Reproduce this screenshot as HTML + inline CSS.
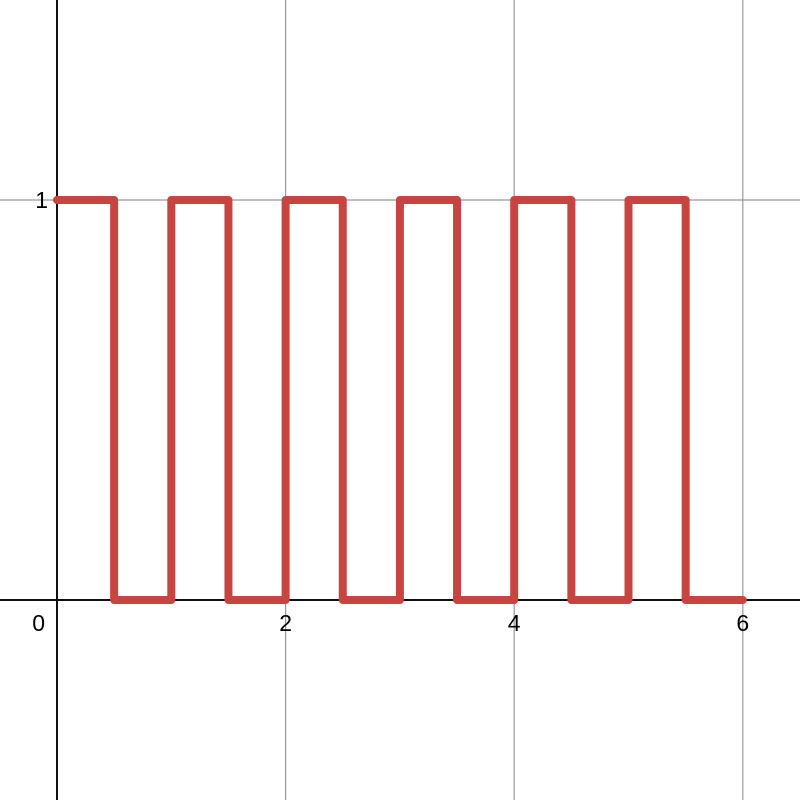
<!DOCTYPE html>
<html><head><meta charset="utf-8"><style>
html,body{margin:0;padding:0;background:#fff;}
svg{display:block;font-family:"Liberation Sans",Arial,sans-serif;}
</style></head><body>
<svg id="chart" width="800" height="800" viewBox="0 0 800 800" xmlns="http://www.w3.org/2000/svg">
<rect width="800" height="800" fill="#fff"/>
<g id="grid"></g>
<g id="axes"></g>
<g id="labels"></g>
<g id="series"></g>
</svg>
<script>
const xTicks = [2, 4, 6];
const yTicks = [1];
const xTickLabels = ["2", "4", "6"];
const yTickLabels = ["1"];
const breakX = [0, 0.5, 1, 1.5, 2, 2.5, 3, 3.5, 4, 4.5, 5, 5.5, 6];
const levels = [1, 0, 1, 0, 1, 0, 1, 0, 1, 0, 1, 0];

const NS = "http://www.w3.org/2000/svg";
const X0 = 57, XS = 114.3, Y0 = 600, YS = 400;
const sx = v => X0 + v * XS;
const sy = v => Y0 - v * YS;
function mk(tag, attrs, parent) {
  const e = document.createElementNS(NS, tag);
  for (const k in attrs) e.setAttribute(k, attrs[k]);
  parent.appendChild(e);
  return e;
}
const grid = document.getElementById('grid');
const axes = document.getElementById('axes');
const labels = document.getElementById('labels');
const series = document.getElementById('series');

xTicks.forEach((t, i) => {
  const l = mk('line', {x1: sx(t), x2: sx(t), y1: 0, y2: 800, stroke: '#999', 'stroke-width': 1.2}, grid);
  
  
  const tx = mk('text', {x: sx(t), y: Y0 + 31, 'text-anchor': 'middle', 'font-size': 23, fill: '#000'}, labels);
  tx.textContent = xTickLabels[i];
  
  
});
yTicks.forEach((t, i) => {
  const l = mk('line', {x1: 0, x2: 800, y1: sy(t), y2: sy(t), stroke: '#999', 'stroke-width': 1.2}, grid);
  
  
  const tx = mk('text', {x: X0 - 9, y: sy(t) + 8, 'text-anchor': 'end', 'font-size': 23, fill: '#000'}, labels);
  tx.textContent = yTickLabels[i];
  
  
});
const zl = mk('text', {x: X0 - 12, y: Y0 + 31, 'text-anchor': 'end', 'font-size': 23, fill: '#000'}, labels);
zl.textContent = "0";



const xa = mk('line', {x1: 0, x2: 800, y1: Y0, y2: Y0, stroke: '#111', 'stroke-width': 2}, axes);


const ya = mk('line', {x1: X0, x2: X0, y1: 0, y2: 800, stroke: '#111', 'stroke-width': 2}, axes);



let d = '';
levels.forEach((v, i) => {
  const xa1 = sx(breakX[i]), xb = sx(breakX[i + 1]), y = sy(v);
  d += (i === 0 ? 'M' : 'L') + xa1 + ' ' + y + ' L' + xb + ' ' + y + ' ';
});
const p = mk('path', {d: d, fill: 'none', stroke: '#c74440', 'stroke-width': 8, 'stroke-linejoin': 'round', 'stroke-linecap': 'round'}, series);


</script>
</body></html>
